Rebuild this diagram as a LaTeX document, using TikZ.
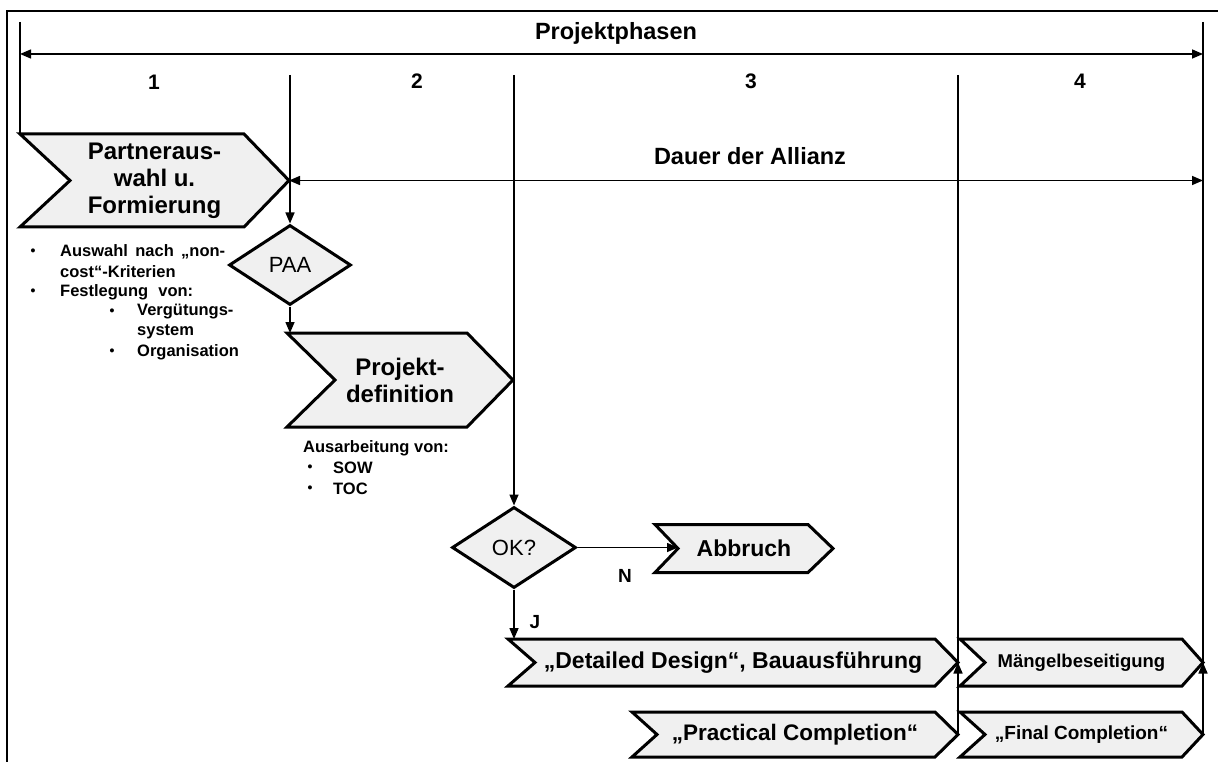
\documentclass[tikz,border=0pt]{standalone}
\usepackage{fontspec}
\setmainfont{Liberation Sans}
\usetikzlibrary{shapes.geometric,arrows.meta,calc}
\pgfdeclarelayer{bg}
\pgfsetlayers{bg,main}
\tikzset{
  shapeline/.style={draw=black, line width=3pt, fill=black!6, line join=miter},
  chevbox/.style={rectangle, draw=none, inner sep=0pt, outer sep=0pt, align=center, font=\bfseries\fontsize{24}{27}\selectfont},
  dia/.style={diamond, shapeline, inner sep=0pt, font=\fontsize{22}{26}\selectfont},
  conn/.style={line width=1.5pt, draw=black},
  arr/.style={conn, -{Triangle[length=11pt,width=9pt]}},
  darr/.style={conn, {Triangle[length=11pt,width=9pt]}-{Triangle[length=11pt,width=9pt]}},
  note/.style={anchor=west, inner sep=0pt, font=\bfseries\fontsize{16.5}{20}\selectfont},
  bul/.style={inner sep=0pt, font=\bfseries\fontsize{14}{20}\selectfont},
  lbl/.style={inner sep=0pt, font=\bfseries\fontsize{23.5}{28}\selectfont},
  num/.style={inner sep=0pt, font=\bfseries\fontsize{21}{24}\selectfont},
  yn/.style={inner sep=0pt, font=\bfseries\fontsize{19}{22}\selectfont},
}
\newcommand{\chevoutline}[3]{%
  \begin{pgfonlayer}{bg}
  \path[shapeline] (#1.north west) -- ([xshift=-#2 pt]#1.north east) -- (#1.east)
     -- ([xshift=-#2 pt]#1.south east) -- (#1.south west) -- ([xshift=#3 pt]#1.west) -- cycle;
  \end{pgfonlayer}}
\begin{document}
\begin{tikzpicture}[x=1pt,y=-1pt]
\useasboundingbox (0,0) rectangle (1218,762);
% frame
\draw[line width=1.6pt] (7,800) -- (7,11) -- (1240,11);

% chevrons and decisions
\node[chevbox, minimum width=269pt, minimum height=93pt] (p1) at (154.5,180.5) {Partneraus-\\wahl u.\\Formierung};
\chevoutline{p1}{45}{50}
\node[dia, minimum width=122pt, minimum height=80pt] (paa) at (290,265) {PAA};
\node[chevbox, minimum width=226pt, minimum height=94pt] (pd) at (400,380) {Projekt-\\definition};
\chevoutline{pd}{46}{48}
\node[dia, minimum width=124pt, minimum height=81pt] (ok) at (514,547.5) {OK?};
\node[chevbox, font=\bfseries\fontsize{23}{26}\selectfont, minimum width=178pt, minimum height=48pt] (ab) at (744,548.5) {Abbruch};
\chevoutline{ab}{25}{23}
\coordinate (abn) at ([xshift=23pt]ab.west);
\node[chevbox, font=\bfseries\fontsize{23}{26}\selectfont, minimum width=450pt, minimum height=47pt] (dd) at (733,662.5) {„Detailed Design“, Bauausführung};
\chevoutline{dd}{23}{27}
\node[chevbox, font=\bfseries\fontsize{22.5}{26}\selectfont, minimum width=326pt, minimum height=45pt] (pc) at (795,734.5) {„Practical Completion“};
\chevoutline{pc}{23}{25}
\node[chevbox, font=\bfseries\fontsize{18.5}{22}\selectfont, minimum width=243pt, minimum height=47pt] (mb) at (1081.5,662.5) {Mängelbeseitigung};
\chevoutline{mb}{21}{25}
\node[chevbox, font=\bfseries\fontsize{19}{22}\selectfont, minimum width=243pt, minimum height=45pt] (fc) at (1081.5,734.5) {„Final Completion“};
\chevoutline{fc}{21}{25}

% top labels
\node[lbl] (ph) at (616,33) {Projektphasen};
\node[num] (n1) at (154,82) {1};
\node[num] (n2) at (417,81) {2};
\node[num] (n3) at (751,81) {3};
\node[num] (n4) at (1080,81) {4};
\node[lbl] (da) at (750,156) {Dauer der Allianz};

% connectors
\coordinate (pl) at (20,54);
\coordinate (pr) at (1203,54);
\draw[darr] (pl) -- (pr);
\coordinate (ltop) at (20,22);
\draw[conn] (ltop) -- (p1.north west);
\coordinate (rtop) at (1203,22);
\draw[conn] (rtop) -- (fc.east);
\draw[arr] (fc.east) -- (mb.east);
\draw[darr] (p1.east) -- (p1.east -| rtop);
\coordinate (d1) at (290,75);
\draw[arr] (d1) -- (paa.north);
\draw[arr] (paa.south) -- (paa.south |- pd.north);
\coordinate (d2) at (514,75);
\draw[arr] (d2) -- (ok.north);
\draw[arr] (ok.east) -- (ok.east -| abn);
\draw[arr] (ok.south) -- (ok.south |- dd.north);
\coordinate (d3) at (958,75);
\draw[conn] (d3) -- (pc.east);
\draw[arr] (pc.east) -- (dd.east);
\node[yn] (nl) at (625,576) {N};
\node[yn] (jl) at (535,622) {J};

% notes 1
\node[bul] (b1) at (33,252) {•};
\node[note] (t1) at (60,252) {\makebox[165pt][s]{Auswahl nach „non-}};
\node[note] (t2) at (60,272) {cost“-Kriterien};
\node[bul] (b2) at (33,292) {•};
\node[note] (t3) at (60,292) {\makebox[133pt][s]{Festlegung von:}};
\node[bul] (b3) at (112,312) {•};
\node[note] (t4) at (137,312) {Vergütungs-};
\node[note] (t5) at (137,332) {system};
\node[bul] (b4) at (112,352) {•};
\node[note] (t6) at (137,352) {Organisation};

% notes 2
\node[note] (u1) at (303,448) {Ausarbeitung von:};
\node[bul] (c1) at (310,468) {•};
\node[note] (u2) at (333,468) {SOW};
\node[bul] (c2) at (310,489) {•};
\node[note] (u3) at (333,489) {TOC};
\end{tikzpicture}
\end{document}
